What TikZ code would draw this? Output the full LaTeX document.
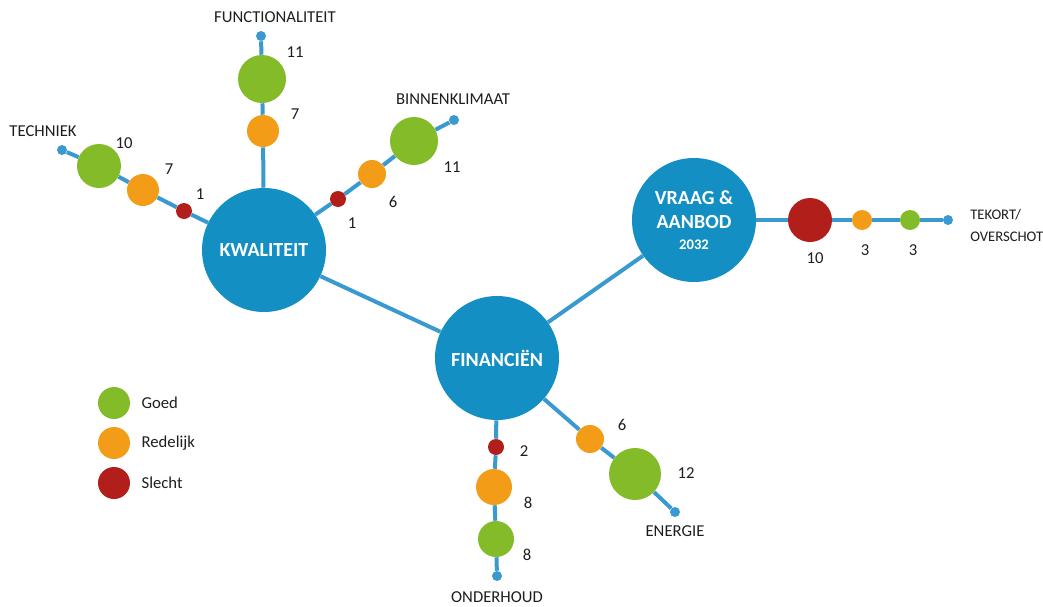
\documentclass[tikz,border=0pt]{standalone}
\usepackage{fontspec}
\setmainfont{Carlito}
\usetikzlibrary{positioning}
\definecolor{hubblue}{RGB}{20,143,196}
\definecolor{lineblue}{RGB}{58,154,208}
\definecolor{goedgreen}{RGB}{132,187,41}
\definecolor{redelijkorange}{RGB}{243,156,24}
\definecolor{slechtred}{RGB}{178,31,26}
\definecolor{darktext}{RGB}{30,30,30}
\tikzset{
  bol/.style={circle, inner sep=0pt, minimum size=#1*0.75pt},
  goed/.style={bol=#1, fill=goedgreen},
  redelijk/.style={bol=#1, fill=redelijkorange},
  slecht/.style={bol=#1, fill=slechtred},
  hub/.style={circle, fill=hubblue, minimum size=124*0.75pt, inner sep=0pt,
              text=white, font=\fontsize{15}{18}\selectfont\bfseries, align=center},
  eind/.style={bol=10, fill=lineblue},
  tak/.style={draw=lineblue, line width=3pt},
  num/.style={font=\fontsize{12.5}{14}\selectfont, text=darktext},
  naam/.style={font=\fontsize{12.5}{16.5}\selectfont, text=darktext, align=left},
}
\begin{document}
\begin{tikzpicture}[x=0.75pt, y=-0.75pt]
  \useasboundingbox (0,0) rectangle (1043,607);

  % hoofdthema's
  \node[hub] (kwal) at (264,250) {KWALITEIT};
  \node[hub] (fin) at (497,358) {FINANCIËN};
  \node[hub] (vraag) at (694,220) {VRAAG \&\\AANBOD\\[-2pt]{\fontsize{11}{13}\selectfont 2032}};

  % functionaliteit
  \node[redelijk=32] (f7) at (263,131) {};
  \node[goed=48] (f11) at (262,79) {};
  \node[eind] (fe) at (261,36) {};
  \node[naam] (fn) at (275,17) {FUNCTIONALITEIT};
  \node[num] (f7n) at (295,114) {7};
  \node[num] (f11n) at (295,52) {11};

  % techniek
  \node[slecht=16] (t1) at (184,211) {};
  \node[redelijk=32] (t7) at (143,190) {};
  \node[goed=44] (t10) at (99,166) {};
  \node[eind] (te) at (62,150) {};
  \node[naam] (tn) at (43,131) {TECHNIEK};
  \node[num] (t1n) at (200,194) {1};
  \node[num] (t7n) at (169,169) {7};
  \node[num] (t10n) at (124,143) {10};

  % binnenklimaat
  \node[slecht=16] (b1) at (338,199) {};
  \node[redelijk=28] (b6) at (372,174) {};
  \node[goed=48] (b11) at (414,141) {};
  \node[eind] (be) at (454,120) {};
  \node[naam] (bn) at (453,99) {BINNENKLIMAAT};
  \node[num] (b1n) at (352,223) {1};
  \node[num] (b6n) at (393,202) {6};
  \node[num] (b11n) at (452,167) {11};

  % tekort/overschot
  \node[slecht=44] (v10) at (810,220) {};
  \node[redelijk=20] (v3a) at (862,220) {};
  \node[goed=20] (v3b) at (910,220) {};
  \node[eind] (ve) at (948,220) {};
  \node[naam, font=\fontsize{11}{16.5}\selectfont, anchor=west, inner sep=0pt] (vn) at (970,225) {TEKORT/\\OVERSCHOT};
  \node[num] (v10n) at (815,258) {10};
  \node[num] (v3an) at (865,250) {3};
  \node[num] (v3bn) at (913,250) {3};

  % onderhoud
  \node[slecht=16] (o2) at (496,447) {};
  \node[redelijk=36] (o8a) at (494,487) {};
  \node[goed=36] (o8b) at (496,539) {};
  \node[eind] (oe) at (497,576) {};
  \node[naam] (on) at (497,597) {ONDERHOUD};
  \node[num] (o2n) at (524,451) {2};
  \node[num] (o8an) at (528,503) {8};
  \node[num] (o8bn) at (527,555) {8};

  % energie
  \node[redelijk=28] (e6) at (590,439) {};
  \node[goed=52] (e12) at (635,474) {};
  \node[eind] (ee) at (675,512) {};
  \node[naam] (en) at (675,531) {ENERGIE};
  \node[num] (e6n) at (622,425) {6};
  \node[num] (e12n) at (686,473) {12};

  % legenda
  \node[goed=32] (lg) at (114,403) {};
  \node[redelijk=32] (lr) at (114,443) {};
  \node[slecht=32] (ls) at (114,483) {};
  \node[naam, right=5pt of lg] {Goed};
  \node[naam, right=5pt of lr] {Redelijk};
  \node[naam, right=5pt of ls] {Slecht};

  % verbindingen
  \draw[tak] (kwal) -- (fin) -- (vraag);
  \draw[tak] (kwal) -- (f7) -- (f11) -- (fe);
  \draw[tak] (kwal) -- (t1) -- (t7) -- (t10) -- (te);
  \draw[tak] (kwal) -- (b1) -- (b6) -- (b11) -- (be);
  \draw[tak] (vraag) -- (v10) -- (v3a) -- (v3b) -- (ve);
  \draw[tak] (fin) -- (o2) -- (o8a) -- (o8b) -- (oe);
  \draw[tak] (fin) -- (e6) -- (e12) -- (ee);
\end{tikzpicture}
\end{document}
